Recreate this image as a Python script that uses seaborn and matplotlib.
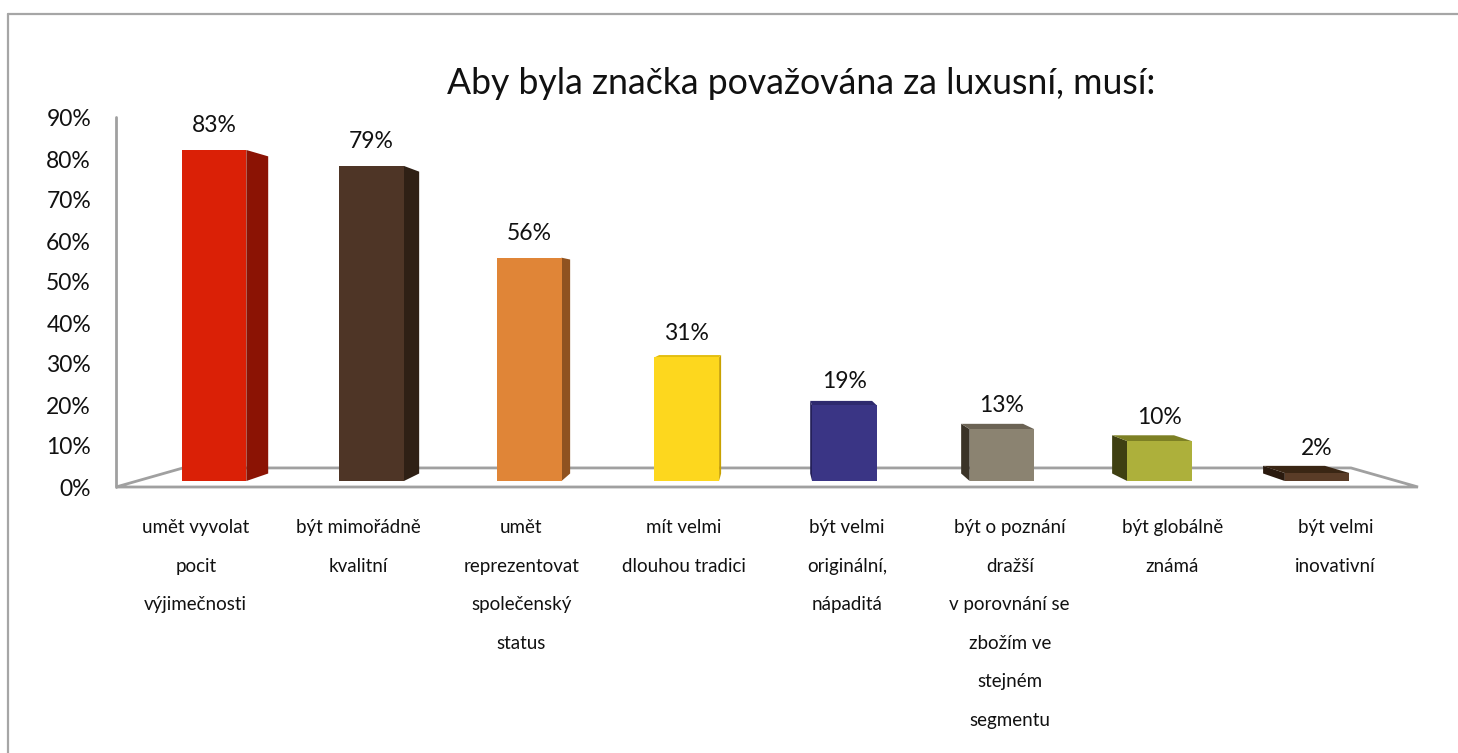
import matplotlib
matplotlib.use("Agg")
import matplotlib.pyplot as plt
import seaborn as sns
from matplotlib.patches import Polygon
from matplotlib.lines import Line2D

# ---- data -------------------------------------------------------------
title = "Aby byla značka považována za luxusní, musí:"
categories = [
    "umět vyvolat\npocit\nvýjimečnosti",
    "být mimořádně\nkvalitní",
    "umět\nreprezentovat\nspolečenský\nstatus",
    "mít velmi\ndlouhou tradici",
    "být velmi\noriginální,\nnápaditá",
    "být o poznání\ndražší\nv porovnání se\nzbožím ve\nstejném\nsegmentu",
    "být globálně\nznámá",
    "být velmi\ninovativní",
]
values = [83, 79, 56, 31, 19, 13, 10, 2]
tick_values = [0, 10, 20, 30, 40, 50, 60, 70, 80, 90]
tick_labels = [f"{t}%" for t in tick_values]

# ---- colours ----------------------------------------------------------
front_colors = ["#DA2006", "#4E3526", "#E08537", "#FDD71E",
                "#3A3585", "#8B8371", "#ADB03B", "#5A3C27"]
side_colors = ["#8B1304", "#2F2015", "#8F5220", "#C9A200",
               "#24205A", "#3A3328", "#3F4012", "#2A1A0E"]
top_colors = ["#B51A05", "#3E2A1D", "#B86A2B", "#E3BE10",
              "#2E2A6E", "#6B6354", "#7D8024", "#3A2614"]
grid_gray = "#A0A0A0"

sns.set_theme(style="white")
plt.rcParams["font.family"] = ["Lato", "DejaVu Sans"]

W, H = 1458, 753
fig = plt.figure(figsize=(W / 100, H / 100), dpi=100)
fig.patch.set_facecolor("white")

# plotting region (floor + wall)
left_px, right_px, top_px, bottom_px = 116, 1418, 117, 487
rect = [left_px / W, 1 - bottom_px / H,
        (right_px - left_px) / W, (bottom_px - top_px) / H]

# value scale shown on the wall
ax_wall = fig.add_axes(rect, frameon=False)
ax_wall.set_ylim(0, 90 * 370 / 369)
ax_wall.set_xlim(0, 1)
ax_wall.set_xticks([])
ax_wall.set_yticks(tick_values)
ax_wall.set_yticklabels(tick_labels, fontsize=16.5, color="#111111")
ax_wall.tick_params(axis="y", length=0, pad=18)
ax_wall.grid(False)

# bars
ax = fig.add_axes(rect, frameon=False)
ax.patch.set_alpha(0)
sns.barplot(x=categories, y=values, hue=categories, palette=front_colors,
            width=0.41, saturation=1, legend=False, linewidth=0,
            ax=ax, zorder=3)
xl, xr = -0.622, 7.640
y_front = -1.5
ax.set_xlim(xl, xr)
ax.set_ylim(y_front, 91.27)
ax.set_yticks([])
ax.set_ylabel("")
ax.set_xlabel("")
ax.grid(False)

# perspective: vanishing point and depth factors
vx, vy = 3.509, 44.9
k_bar, k_floor = 0.042, 0.103
front_scale = 1.033  # bar plane -> front edge of the floor


def project(x, y, k):
    return (x + (vx - x) * k, y + (vy - y) * k)


# category labels sit on the front edge of the floor
label_pos = [vx + (i - vx) * front_scale for i in range(len(categories))]
ax.set_xticks(label_pos)
ax.set_xticklabels(categories, fontsize=13.5, color="#111111",
                   linespacing=2.54, va="top")
ax.tick_params(axis="x", length=0, pad=23)

# floor outline and wall edge
fl = [(xl, y_front), (xr, y_front),
      project(xr, y_front, k_floor), project(xl, y_front, k_floor)]
ax.add_patch(Polygon(fl, closed=True, fill=False, edgecolor=grid_gray,
                     linewidth=2, zorder=1, clip_on=False))
ax.plot([xl, xl], [y_front, 91.27], color=grid_gray, linewidth=2,
        zorder=1, clip_on=False)

# depth faces of each bar
for i, p in enumerate(ax.patches[:len(values)]):
    x0, y0 = p.get_x(), p.get_y()
    x1, y1 = x0 + p.get_width(), y0 + p.get_height()
    if x1 < vx:
        side = [(x1, y0), (x1, y1), project(x1, y1, k_bar), project(x1, y0, k_bar)]
        ax.add_patch(Polygon(side, closed=True, facecolor=side_colors[i],
                             edgecolor="none", zorder=2.9))
    elif x0 > vx:
        side = [(x0, y0), (x0, y1), project(x0, y1, k_bar), project(x0, y0, k_bar)]
        ax.add_patch(Polygon(side, closed=True, facecolor=side_colors[i],
                             edgecolor="none", zorder=2.9))
    if y1 < vy:
        top = [(x0, y1), (x1, y1), project(x1, y1, k_bar), project(x0, y1, k_bar)]
        ax.add_patch(Polygon(top, closed=True, facecolor=top_colors[i],
                             edgecolor="none", zorder=2.9))

# value labels
for i, v in enumerate(values):
    ax.text(i, v + 4.4, f"{v}%", ha="center", va="baseline",
            fontsize=16.5, color="#111111", zorder=5)

# title
fig.text(801 / W, 1 - 83 / H, title, ha="center", va="center",
         fontsize=25.7, color="#111111")

# chart frame
frame_kw = dict(color="#A6A6A6", linewidth=1.6, transform=fig.transFigure)
fig.add_artist(Line2D([8 / W, 8 / W], [0, 1 - 14 / H], **frame_kw))
fig.add_artist(Line2D([8 / W, 1], [1 - 14 / H, 1 - 14 / H], **frame_kw))

fig.savefig("out.png", dpi=100, facecolor="white")
